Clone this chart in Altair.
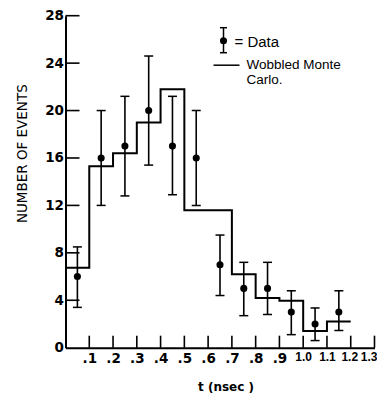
import altair as alt
import pandas as pd

# ---- data ----
t_mid = [0.05, 0.15, 0.25, 0.35, 0.45, 0.55, 0.65, 0.75, 0.85, 0.95, 1.05, 1.15]
counts = [6, 16, 17, 20, 17, 16, 7, 5, 5, 3, 2, 3]
err_hi = [8.5, 20.0, 21.2, 24.6, 21.2, 20.0, 9.5, 7.2, 7.2, 4.8, 3.35, 4.8]
err_lo = [3.4, 12.0, 12.8, 15.4, 12.9, 12.0, 4.4, 2.7, 2.8, 1.1, 0.6, 1.45]

mc_edges = [0.0, 0.1, 0.2, 0.3, 0.4, 0.5, 0.6, 0.7, 0.8, 0.9, 1.0, 1.1, 1.2]
mc_vals = [6.75, 15.3, 16.4, 19.0, 21.8, 11.6, 11.6, 6.2, 4.2, 3.95, 1.4, 2.2, 2.2]

x_ticks = [0.1, 0.2, 0.3, 0.4, 0.5, 0.6, 0.7, 0.8, 0.9, 1.0, 1.1, 1.2, 1.3]
y_ticks = [0, 4, 8, 12, 16, 20, 24, 28]

W, H = 309, 332
FONT = "DejaVu Sans"
LFONT = "Liberation Sans"

data_df = pd.DataFrame({"t": t_mid, "n": counts, "hi": err_hi, "lo": err_lo})
mc_df = pd.DataFrame({"t": mc_edges, "n": mc_vals})
xt_df = pd.DataFrame({"t": x_ticks})
yt_df = pd.DataFrame({"n": y_ticks[1:]})
one = pd.DataFrame({"a": [0]})

xs = alt.Scale(domain=[0, 1.3], nice=False, zero=False)
ys = alt.Scale(domain=[0, 28], nice=False)

x_axis = alt.Axis(
    values=x_ticks, tickSize=0, grid=False, domainColor="black", domainWidth=2,
    labelExpr="datum.value < 0.95 ? replace(format(datum.value, '.1f'), '0.', '.') : format(datum.value, '.1f')",
    labelFont={"condition": {"test": "datum.value >= 0.95", "value": LFONT}, "value": FONT},
    labelFontWeight="bold", labelColor="black",
    labelFontSize={"condition": {"test": "datum.value >= 0.95", "value": 12}, "value": 13.5},
    labelAlign={"condition": {"test": "datum.value > 1.25", "value": "right"}, "value": "center"},
    labelOffset={"condition": [{"test": "datum.value > 1.25", "value": 2.5},
                               {"test": "datum.value > 1.15", "value": -1.5}], "value": 0},
    labelPadding=4, labelFlush=False, labelOverlap=False, title=None,
)
y_axis = alt.Axis(
    values=y_ticks, tickSize=0, grid=False, domainColor="black", domainWidth=2,
    labelFont=FONT, labelFontWeight="bold", labelFontSize=13.5, labelColor="black",
    labelPadding=2, labelFlush=False, labelOverlap=False, title=None,
)


def X(f):
    return alt.X(f, type="quantitative", scale=xs, axis=x_axis)


def Y(f):
    return alt.Y(f, type="quantitative", scale=ys, axis=y_axis)


bars = alt.Chart(data_df).mark_rule(color="black", strokeWidth=1.6).encode(
    x=X("t"), y=Y("lo"), y2="hi:Q",
)
cap_hi = alt.Chart(data_df).mark_tick(orient="horizontal", size=9, thickness=1.5, color="black", opacity=1).encode(
    x=X("t"), y=Y("hi")
)
cap_lo = alt.Chart(data_df).mark_tick(orient="horizontal", size=9, thickness=1.5, color="black", opacity=1).encode(
    x=X("t"), y=Y("lo")
)
pts = alt.Chart(data_df).mark_point(filled=True, size=50, color="black", opacity=1).encode(
    x=X("t"), y=Y("n")
)
mc = alt.Chart(mc_df).mark_line(interpolate="step-after", color="black", strokeWidth=2).encode(
    x=X("t"), y=Y("n")
)
xticks = alt.Chart(xt_df).mark_rule(color="black", strokeWidth=1.6).encode(
    x=X("t"), y=alt.value(H), y2=alt.value(H - 12)
)
yticks = alt.Chart(yt_df).mark_rule(color="black", strokeWidth=1.6).encode(
    y=Y("n"), x=alt.value(0), x2=alt.value(14)
)

# legend (drawn by hand)
lg = alt.Chart(one)
leg = [
    lg.mark_rule(color="black", strokeWidth=1.5).encode(x=alt.value(158), y=alt.value(12), y2=alt.value(37)),
    lg.mark_rule(color="black", strokeWidth=1.5).encode(x=alt.value(154.5), x2=alt.value(161.5), y=alt.value(12)),
    lg.mark_rule(color="black", strokeWidth=1.5).encode(x=alt.value(154.5), x2=alt.value(161.5), y=alt.value(37)),
    lg.mark_point(filled=True, size=50, color="black", opacity=1).encode(x=alt.value(158), y=alt.value(25)),
    lg.mark_text(text="= Data", align="left", baseline="middle", font=LFONT, fontSize=15, color="black").encode(
        x=alt.value(169), y=alt.value(26)),
    lg.mark_rule(color="black", strokeWidth=1.5).encode(x=alt.value(148), x2=alt.value(174), y=alt.value(49.5)),
    lg.mark_text(text="Wobbled Monte", align="left", baseline="middle", font=LFONT, fontSize=13.5, color="black").encode(
        x=alt.value(181), y=alt.value(49.5)),
    lg.mark_text(text="Carlo.", align="left", baseline="middle", font=LFONT, fontSize=13.5, color="black").encode(
        x=alt.value(181), y=alt.value(64.5)),
    # axis titles
    lg.mark_text(text="NUMBER OF EVENTS", angle=270, align="center", baseline="middle", font=FONT,
                 fontSize=13.5, color="black").encode(x=alt.value(-43), y=alt.value(138)),
    lg.mark_text(text="t (nsec )", align="center", baseline="middle", font=FONT, fontWeight="bold",
                 fontSize=12, color="black").encode(x=alt.value(160.5), y=alt.value(371)),
]

chart = alt.layer(bars, cap_hi, cap_lo, pts, mc, xticks, yticks, *leg).properties(
    width=W, height=H,
    autosize=alt.AutoSizeParams(type="none"),
    padding={"left": 57.5, "top": 7.7, "right": 2, "bottom": 46},
    background="white",
).configure_view(stroke=None)

chart.save("out.html", embed_options={"renderer": "svg", "actions": False})
